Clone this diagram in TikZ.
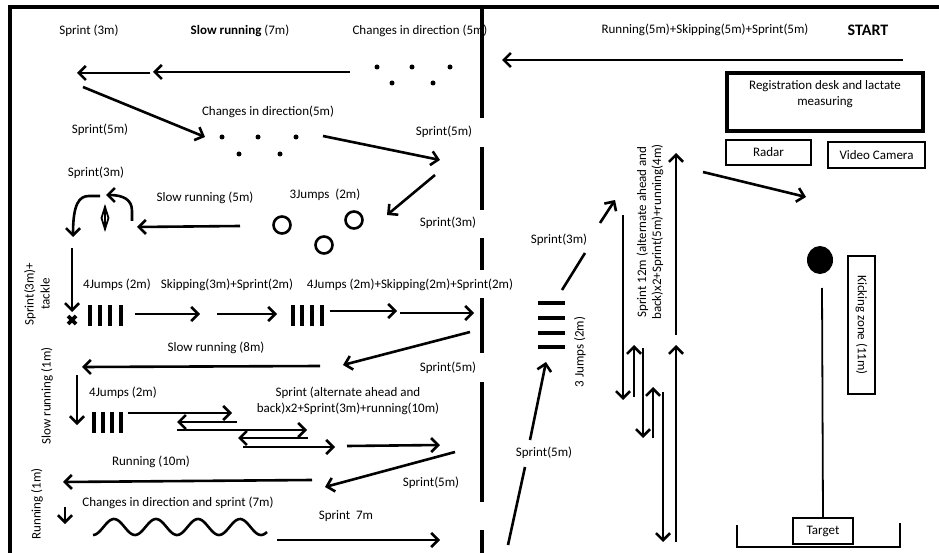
\documentclass[tikz,border=0pt]{standalone}
\usepackage{fontspec}
\setmainfont{Carlito}
\usetikzlibrary{arrows.meta}

\begin{document}
\begin{tikzpicture}[x=1pt,y=-1pt,
    line width=2.6pt, >={Straight Barb[length=7pt,width=14pt]},
    lbl/.style={font=\fontsize{13}{16}\selectfont, inner sep=0pt},
    box/.style={draw, line width=2.8pt, font=\fontsize{13}{16}\selectfont, inner sep=0pt}]
\useasboundingbox (0,0) rectangle (939,553);

    \draw[line width=3.2pt] (10,553) -- (10,7) -- (939,7);
    \foreach \a/\b in {7/118,147/210,238/270,298/353,382/502,530/553}
        \draw[line width=3.4pt] (482,\a) -- (482,\b);

    % top row
    \node[lbl] (sprintA) at (89,31) {Sprint (3m)};
    \node[lbl] (slowA) at (240,31) {\textbf{Slow running} (7m)};
    \node[lbl] (cidA) at (420,31) {Changes in direction (5m)};
    \node[lbl] (rss) at (705,30) {Running(5m)+Skipping(5m)+Sprint(5m)};
    \node[lbl, font=\fontsize{16}{18}\selectfont\bfseries] (start) at (868,30) {START};
    \draw[->] (903,60) -- (502,60);
    \draw[->] (350,72) -- (153,72);
    \draw[->] (150,73) -- (77,73);
    \foreach \p in {(377,67),(412,67),(450,67),(392,83),(433,83)}
        \fill \p circle (2.5pt);

    \draw[->] (83,87) -- (205,137);
    \node[lbl] (sprintB) at (100,130) {Sprint(5m)};
    \node[lbl] (cidB) at (268,112) {Changes in direction(5m)};
    \foreach \p in {(222,137),(258,137),(296,137),(239,154),(280,154)}
        \fill \p circle (2.5pt);
    \draw[->] (323,136) -- (440,160);
    \node[lbl] (sprintC) at (444,132) {Sprint(5m)};

    % jumps and tackle
    \node[lbl] (sprintD) at (96,173) {Sprint(3m)};
    \draw[->] (435,175) -- (387,215);
    \node[lbl] (sprintE) at (448,223) {Sprint(3m)};
    \node[lbl] (slowB) at (205,198) {Slow running (5m)};
    \node[lbl] (jumpsA) at (325,195) {3Jumps\ \ (2m)};
    \foreach \p in {(282,225),(354,220),(324,245)}
        \draw \p circle (8.5pt);
    \draw[->] (240,226) -- (137,227);
    \draw[->] (132,221) -- (132,211) .. controls (132,200) and (124,195) .. (106,195);
    \draw[->] (100,196) -- (89,196) .. controls (79,196) and (73,204) .. (73,237);
    \draw[line width=1.8pt] (105,207) -- (108.5,218) -- (105,229) -- (101.5,218) -- cycle
        (105,206) -- (105,230);
    \draw[->] (72,248) -- (72,312);
    \draw[line width=3.6pt] (68,316) -- (76,324) (68,324) -- (76,316);
    \node[lbl, rotate=90, align=center] (tackle) at (37,294) {Sprint(3m)+\\tackle};

    \node[lbl] (jumpsB) at (117,285) {4Jumps (2m)};
    \node[lbl] (skipA) at (227,285) {Skipping(3m)+Sprint(2m)};
    \node[lbl] (jumpsC) at (410,285) {4Jumps (2m)+Skipping(2m)+Sprint(2m)};
    \foreach \x in {90,100,110,121}
        \draw[line width=3.2pt] (\x,305) -- (\x,326);
    \draw[->] (135,314) -- (200,314);
    \draw[->] (217,314) -- (277,314);
    \foreach \x in {293,302,312,322}
        \draw[line width=3.2pt] (\x,305) -- (\x,326);
    \draw[->] (330,311) -- (397,311);
    \draw[->] (400,313) -- (474,313);

    % lower left
    \draw[->] (470,332) -- (343,365);
    \node[lbl] (sprintF) at (448,368) {Sprint(5m)};
    \node[lbl] (slowC) at (216,348) {Slow running (8m)};
    \draw[->] (320,366) -- (82,367);
    \node[lbl, rotate=90] (slowD) at (47,396) {Slow running (1m)};
    \draw[->] (77,375) -- (77,425);
    \node[lbl] (jumpsD) at (123,393) {4Jumps (2m)};
    \foreach \x in {94,103,112,121}
        \draw[line width=3.2pt] (\x,412) -- (\x,433);
    \draw[->] (128,413) -- (232,413);
    \draw[->] (237,422) -- (177,422);
    \draw[->] (177,430) -- (307,430);
    \draw[->] (308,438) -- (238,438);
    \draw[->] (243,447) -- (335,447);
    \draw[->] (347,446) -- (440,445);
    \node[lbl, align=center] (altA) at (348,401) {Sprint (alternate ahead and\\back)x2+Sprint(3m)+running(10m)};
    \draw[->] (455,452) -- (325,487);
    \node[lbl] (sprintG) at (431,483) {Sprint(5m)};
    \node[lbl] (runA) at (151,462) {Running (10m)};
    \draw[->] (312,480) -- (63,482);
    \node[lbl, rotate=90] (runB) at (37,504) {Running (1m)};
    \draw[->] (65,507) -- (65,524);
    \node[lbl] (cidC) at (178,503) {Changes in direction and sprint (7m)};
    \draw[domain=93:267, samples=120, smooth, variable=\x] plot ({\x}, {527+8*cos((\x-93)*8.5714)});
    \draw[->] (277,540) -- (440,540);
    \node[lbl] (sprintH) at (346,516) {Sprint\ \ 7m};

    % right half
    \node[lbl] (sprintI) at (544,453) {Sprint(5m)};
    \draw (508,545) -- (525,467);
    \draw[->] (530,440) -- (546,362);
    \foreach \y in {303,318,333,347}
        \draw[line width=3.2pt] (538,\y) -- (565,\y);
    \node[lbl, rotate=90] (jumpsE) at (580,352) {3 Jumps (2m)};
    \draw (562,290) -- (585,253);
    \node[lbl] (sprintJ) at (559,240) {Sprint(3m)};
    \draw[->] (600,223) -- (615,200);
    \node[lbl, rotate=90, align=center, font=\fontsize{13}{15}\selectfont] (altB) at (650,232) {Sprint 12m (alternate ahead and\\back)x2+Sprint(5m)+running(4m)};
    \draw[->] (623,215) -- (623,400);
    \draw[->] (634,397) -- (634,345);
    \draw[->] (643,348) -- (643,438);
    \draw[->] (653,438) -- (653,387);
    \draw[->] (663,392) -- (663,542);
    \draw[->] (676,542) -- (676,345);
    \draw[->] (676,335) -- (676,153);
    \draw[->] (703,172) -- (806,197);

    \node[box, line width=3.2pt, minimum width=196pt, minimum height=58pt] (desk) at (825,102) {};
    \node[lbl, align=center] (deskTxt) at (825,94) {Registration desk and lactate\\measuring};
    \node[box, minimum width=85pt, minimum height=25pt] (radar) at (768.5,152.5) {Radar};
    \node[box, line width=2.2pt, minimum width=97pt, minimum height=26pt] (camera) at (876.5,155) {Video Camera};
    \fill (820,260) ellipse (13pt and 14pt);
    \node[box, rotate=-90, minimum width=138pt, minimum height=27pt] (kick) at (861.5,325) {Kicking zone (11m)};
    \node[box, line width=2.2pt, minimum width=60pt, minimum height=26pt] (target) at (823,531) {Target};
    \draw[line width=1.8pt] (822,288) -- (target.north);
    \draw[line width=2.2pt] (737,525) -- (737,547) -- (900,547) -- (900,523);
\end{tikzpicture}
\end{document}
